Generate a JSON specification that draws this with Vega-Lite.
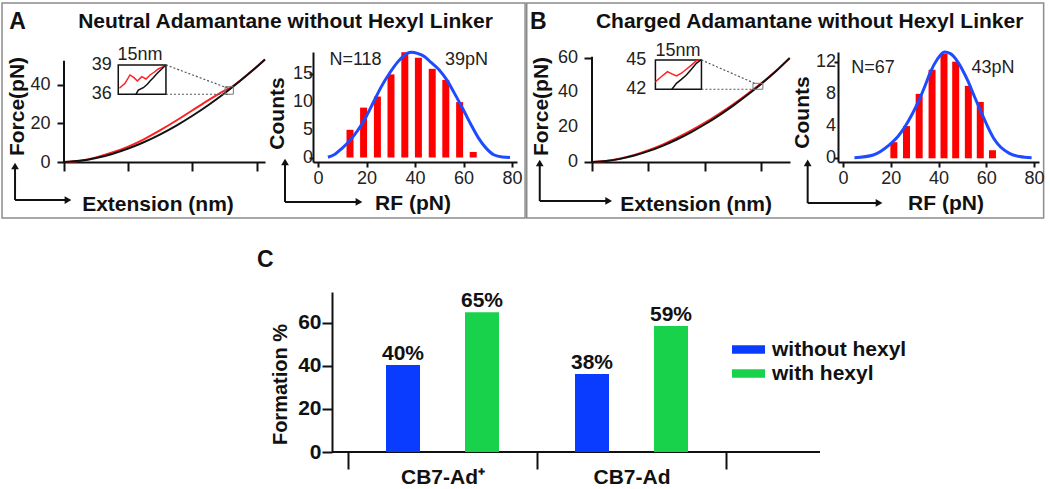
{
  "$schema": "https://vega.github.io/schema/vega-lite/v6.json",
  "padding": {"left": 1, "top": 2, "right": 0, "bottom": 0},
  "background": "white",
  "datasets": {
    "forceA": [
      {"trace": "approach", "ext": 0, "force": 0}, {"trace": "approach", "ext": 10, "force": 0.59}, {"trace": "approach", "ext": 20, "force": 2.03},
      {"trace": "approach", "ext": 30, "force": 4.18}, {"trace": "approach", "ext": 40, "force": 6.97}, {"trace": "approach", "ext": 50, "force": 10.37},
      {"trace": "approach", "ext": 60, "force": 14.35}, {"trace": "approach", "ext": 70, "force": 18.88}, {"trace": "approach", "ext": 80, "force": 23.95},
      {"trace": "approach", "ext": 90, "force": 29.54}, {"trace": "approach", "ext": 100, "force": 35.63}, {"trace": "approach", "ext": 105, "force": 38.86},
      {"trace": "approach", "ext": 110, "force": 42.21}, {"trace": "approach", "ext": 115, "force": 45.69}, {"trace": "approach", "ext": 120, "force": 49.28},
      {"trace": "approach", "ext": 125.2, "force": 53.1},
      {"trace": "retraction", "ext": 0, "force": 0}, {"trace": "retraction", "ext": 10, "force": 0.7}, {"trace": "retraction", "ext": 20, "force": 2.4},
      {"trace": "retraction", "ext": 30, "force": 4.9}, {"trace": "retraction", "ext": 40, "force": 8.0}, {"trace": "retraction", "ext": 50, "force": 11.9},
      {"trace": "retraction", "ext": 60, "force": 16.5}, {"trace": "retraction", "ext": 70, "force": 21.5}, {"trace": "retraction", "ext": 80, "force": 26.8},
      {"trace": "retraction", "ext": 90, "force": 32.1}, {"trace": "retraction", "ext": 100, "force": 37.0}, {"trace": "retraction", "ext": 105, "force": 39.2},
      {"trace": "retraction", "ext": 110, "force": 42.4}, {"trace": "retraction", "ext": 115, "force": 45.8}, {"trace": "retraction", "ext": 120, "force": 49.3},
      {"trace": "retraction", "ext": 125.2, "force": 53.1}
    ],
    "insetA": [
      {"trace": "retraction", "ext": 34.5, "force": 38.2}, {"trace": "retraction", "ext": 38.0, "force": 40.8}, {"trace": "retraction", "ext": 41.1, "force": 45.1},
      {"trace": "retraction", "ext": 43.6, "force": 43.7}, {"trace": "retraction", "ext": 45.7, "force": 42.0}, {"trace": "retraction", "ext": 48.4, "force": 44.2},
      {"trace": "retraction", "ext": 51.1, "force": 43.0}, {"trace": "retraction", "ext": 53.6, "force": 45.1}, {"trace": "retraction", "ext": 56.1, "force": 46.5},
      {"trace": "retraction", "ext": 58.7, "force": 48.2}, {"trace": "retraction", "ext": 61.9, "force": 49.4},
      {"trace": "approach", "ext": 44.8, "force": 35.1}, {"trace": "approach", "ext": 46.3, "force": 37.3}, {"trace": "approach", "ext": 49.4, "force": 38.5},
      {"trace": "approach", "ext": 51.9, "force": 40.3}, {"trace": "approach", "ext": 53.6, "force": 42.0}, {"trace": "approach", "ext": 55.6, "force": 43.7},
      {"trace": "approach", "ext": 58.1, "force": 46.0}, {"trace": "approach", "ext": 60.9, "force": 48.2}, {"trace": "approach", "ext": 62.9, "force": 49.9}
    ],
    "forceB": [
      {"trace": "approach", "ext": 0, "force": 0}, {"trace": "approach", "ext": 10, "force": 0.51}, {"trace": "approach", "ext": 20, "force": 1.79},
      {"trace": "approach", "ext": 30, "force": 3.71}, {"trace": "approach", "ext": 40, "force": 6.23}, {"trace": "approach", "ext": 50, "force": 9.3},
      {"trace": "approach", "ext": 60, "force": 12.92}, {"trace": "approach", "ext": 70, "force": 17.05}, {"trace": "approach", "ext": 80, "force": 21.68},
      {"trace": "approach", "ext": 90, "force": 26.81}, {"trace": "approach", "ext": 100, "force": 32.41}, {"trace": "approach", "ext": 110, "force": 38.47},
      {"trace": "approach", "ext": 120, "force": 44.99}, {"trace": "approach", "ext": 130, "force": 51.97}, {"trace": "approach", "ext": 140, "force": 59.7},
      {"trace": "retraction", "ext": 0, "force": 0}, {"trace": "retraction", "ext": 10, "force": 0.6}, {"trace": "retraction", "ext": 20, "force": 2.0},
      {"trace": "retraction", "ext": 30, "force": 4.1}, {"trace": "retraction", "ext": 40, "force": 6.8}, {"trace": "retraction", "ext": 50, "force": 10.0},
      {"trace": "retraction", "ext": 60, "force": 13.8}, {"trace": "retraction", "ext": 70, "force": 18.0}, {"trace": "retraction", "ext": 80, "force": 22.6},
      {"trace": "retraction", "ext": 90, "force": 27.7}, {"trace": "retraction", "ext": 100, "force": 33.2}, {"trace": "retraction", "ext": 110, "force": 39.1},
      {"trace": "retraction", "ext": 116, "force": 42.8}, {"trace": "retraction", "ext": 120, "force": 45.3}, {"trace": "retraction", "ext": 130, "force": 52.1},
      {"trace": "retraction", "ext": 140, "force": 59.7}
    ],
    "insetB": [
      {"trace": "retraction", "ext": 44.9, "force": 46.1}, {"trace": "retraction", "ext": 48.6, "force": 48.7}, {"trace": "retraction", "ext": 53.4, "force": 51.9},
      {"trace": "retraction", "ext": 56.6, "force": 50.6}, {"trace": "retraction", "ext": 59.8, "force": 49.4}, {"trace": "retraction", "ext": 63.3, "force": 51.0},
      {"trace": "retraction", "ext": 66.8, "force": 53.3}, {"trace": "retraction", "ext": 70.4, "force": 55.7}, {"trace": "retraction", "ext": 73.9, "force": 58.2},
      {"trace": "retraction", "ext": 76.5, "force": 58.6},
      {"trace": "approach", "ext": 56.6, "force": 41.8}, {"trace": "approach", "ext": 59.8, "force": 45.2}, {"trace": "approach", "ext": 63.3, "force": 47.5},
      {"trace": "approach", "ext": 66.8, "force": 50.0}, {"trace": "approach", "ext": 70.4, "force": 53.3}, {"trace": "approach", "ext": 73.9, "force": 56.7},
      {"trace": "approach", "ext": 77.0, "force": 58.6}
    ],
    "histA": [
      {"rf": 13.2, "count": 5}, {"rf": 18.8, "count": 9}, {"rf": 24.5, "count": 11}, {"rf": 30.1, "count": 15}, {"rf": 35.8, "count": 19},
      {"rf": 41.4, "count": 18}, {"rf": 47.1, "count": 16}, {"rf": 52.7, "count": 14}, {"rf": 58.4, "count": 10}, {"rf": 64.0, "count": 1}
    ],
    "gaussA": [
      {"rf": 4.1, "count": 0.05}, {"rf": 7, "count": 0.6}, {"rf": 9.9, "count": 1.66}, {"rf": 13, "count": 3.0}, {"rf": 16.5, "count": 4.96},
      {"rf": 20, "count": 7.5}, {"rf": 23, "count": 10.1}, {"rf": 26, "count": 12.7}, {"rf": 29.5, "count": 15.2}, {"rf": 33, "count": 17.3},
      {"rf": 36, "count": 18.6}, {"rf": 38.4, "count": 19.0}, {"rf": 41, "count": 18.8}, {"rf": 44, "count": 18.2}, {"rf": 46.5, "count": 17.2},
      {"rf": 50, "count": 15.8}, {"rf": 53.1, "count": 14.0}, {"rf": 56, "count": 11.8}, {"rf": 59.6, "count": 8.9}, {"rf": 63, "count": 6.0},
      {"rf": 66.2, "count": 3.5}, {"rf": 69.5, "count": 1.6}, {"rf": 72.7, "count": 0.45}, {"rf": 76, "count": 0.1}, {"rf": 79.2, "count": 0.02}
    ],
    "histB": [
      {"rf": 21.3, "count": 2}, {"rf": 26.6, "count": 4}, {"rf": 31.9, "count": 8}, {"rf": 37.3, "count": 11}, {"rf": 42.3, "count": 13},
      {"rf": 47.2, "count": 12}, {"rf": 52.5, "count": 9}, {"rf": 57.5, "count": 7}, {"rf": 62.6, "count": 1}
    ],
    "gaussB": [
      {"rf": 4.8, "count": 0.07}, {"rf": 12.7, "count": 0.41}, {"rf": 19.4, "count": 1.66}, {"rf": 23, "count": 2.7}, {"rf": 26, "count": 3.94},
      {"rf": 29, "count": 5.5}, {"rf": 31.9, "count": 7.25}, {"rf": 34.5, "count": 9.1}, {"rf": 36.6, "count": 10.7}, {"rf": 39.5, "count": 12.3},
      {"rf": 42.5, "count": 13.2}, {"rf": 45, "count": 13.0}, {"rf": 47.8, "count": 12.1}, {"rf": 50, "count": 11.0}, {"rf": 52.5, "count": 9.5},
      {"rf": 55, "count": 7.7}, {"rf": 57.8, "count": 5.8}, {"rf": 60.5, "count": 4.0}, {"rf": 63.1, "count": 2.5}, {"rf": 66, "count": 1.4},
      {"rf": 69.7, "count": 0.62}, {"rf": 74, "count": 0.22}, {"rf": 79, "count": 0.07}
    ],
    "countTicksA": [{"v": 0}, {"v": 5}, {"v": 10}, {"v": 15}],
    "forceTicksB": [{"v": 0}, {"v": 20}, {"v": 40}, {"v": 60}],
    "countTicksB": [{"v": 0}, {"v": 4}, {"v": 8}, {"v": 12}],
    "formation": [
      {"complex": "CB7-Ad⁺", "linker": "without hexyl", "formation": 40.5, "label": "40%"},
      {"complex": "CB7-Ad⁺", "linker": "with hexyl", "formation": 65, "label": "65%"},
      {"complex": "CB7-Ad", "linker": "without hexyl", "formation": 36.3, "label": "38%"},
      {"complex": "CB7-Ad", "linker": "with hexyl", "formation": 58.6, "label": "59%"}
    ]
  },
  "vconcat": [
    {
      "bounds": "flush",
      "spacing": 0,
      "hconcat": [
        {
          "width": 201,
          "height": 110,
          "layer": [
            {"data": {"values": [{}]}, "mark": {"type": "rect", "fill": "transparent", "stroke": "#8c8c8c", "strokeWidth": 1.5},
             "encoding": {"x": {"datum": -38.6}, "x2": {"datum": 287.2}, "y": {"datum": -29.0}, "y2": {"datum": 82.4}}},
            {"data": {"values": [{}]}, "mark": {"type": "text", "text": "A", "fontSize": 23, "fontWeight": "bold", "align": "center", "baseline": "middle", "color": "#111"},
             "encoding": {"x": {"datum": -28.96}, "y": {"datum": 72.3}}},
            {"data": {"values": [{}]}, "mark": {"type": "text", "text": "Neutral Adamantane without Hexyl Linker", "fontSize": 21, "fontWeight": "bold", "align": "center", "baseline": "middle", "color": "#111"},
             "encoding": {"x": {"datum": 137.97}, "y": {"datum": 72.3}}},
            {"data": {"values": [{}]}, "mark": {"type": "rule", "strokeWidth": 2, "color": "#111"},
             "encoding": {"x": {"datum": -30.5}, "y": {"datum": -19.7}, "y2": {"datum": -2.07}}},
            {"data": {"values": [{}]}, "mark": {"type": "rule", "strokeWidth": 2, "color": "#111"},
             "encoding": {"x": {"datum": -30.5}, "x2": {"datum": 2.49}, "y": {"datum": -19.7}}},
            {"data": {"values": [{}]}, "mark": {"type": "point", "shape": "triangle-up", "filled": true, "size": 60, "color": "#111", "opacity": 1},
             "encoding": {"x": {"datum": -30.5}, "y": {"datum": -2.07}}},
            {"data": {"values": [{}]}, "mark": {"type": "point", "shape": "triangle-right", "filled": true, "size": 60, "color": "#111", "opacity": 1},
             "encoding": {"x": {"datum": 2.49}, "y": {"datum": -19.7}}},
            {"data": {"values": [{}]}, "mark": {"type": "rule", "strokeWidth": 2, "color": "#111"},
             "encoding": {"x": {"datum": 0}, "y": {"datum": 0}, "y2": {"datum": 52.5}}},
            {"data": {"name": "forceA"}, "transform": [{"filter": "datum.trace === 'retraction'"}],
             "mark": {"type": "line", "color": "#ff2020", "strokeWidth": 2, "interpolate": "monotone"},
             "encoding": {
               "x": {"field": "ext", "type": "quantitative", "scale": {"domain": [0, 125.2], "nice": false, "zero": false},
                     "axis": {"values": [0, 40, 80, 120], "labels": false, "tickSize": 9, "title": "Extension (nm)", "titleX": 93.5, "titleY": 42}},
               "y": {"field": "force", "type": "quantitative", "scale": {"domain": [0, 57], "nice": false, "zero": false},
                     "axis": {"values": [0, 10, 20, 30, 40, 50], "labelExpr": "datum.value % 20 === 0 ? datum.label : ''", "labelOverlap": false, "domain": false, "tickSize": 7, "labelPadding": 7,
                              "title": "Force(pN)", "titleX": -46.5, "titleY": 54}}
             }},
            {"data": {"name": "forceA"}, "transform": [{"filter": "datum.trace === 'approach'"}],
             "mark": {"type": "line", "color": "#111", "strokeWidth": 2, "interpolate": "monotone"},
             "encoding": {"x": {"field": "ext", "type": "quantitative"}, "y": {"field": "force", "type": "quantitative"}}},
            {"data": {"values": [{}]}, "mark": {"type": "rect", "fill": "transparent", "stroke": "#111", "strokeWidth": 1.5},
             "encoding": {"x": {"datum": 33.8}, "x2": {"datum": 63.5}, "y": {"datum": 35.1}, "y2": {"datum": 50.3}}},
            {"data": {"values": [{}]}, "mark": {"type": "rect", "fill": "transparent", "stroke": "#777", "strokeWidth": 1},
             "encoding": {"x": {"datum": 100.3}, "x2": {"datum": 105.5}, "y": {"datum": 35.1}, "y2": {"datum": 39.0}}},
            {"data": {"values": [{}]}, "mark": {"type": "rule", "strokeWidth": 1.2, "color": "#555", "strokeDash": [2, 2]},
             "encoding": {"x": {"datum": 63.5}, "y": {"datum": 50.3}, "x2": {"datum": 102.3}, "y2": {"datum": 38.2}}},
            {"data": {"values": [{}]}, "mark": {"type": "rule", "strokeWidth": 1.2, "color": "#555", "strokeDash": [2, 2]},
             "encoding": {"x": {"datum": 63.5}, "y": {"datum": 35.1}, "x2": {"datum": 102.3}, "y2": {"datum": 35.1}}},
            {"data": {"name": "insetA"}, "transform": [{"filter": "datum.trace === 'retraction'"}],
             "mark": {"type": "line", "color": "#ff2020", "strokeWidth": 1.5},
             "encoding": {"x": {"field": "ext", "type": "quantitative"}, "y": {"field": "force", "type": "quantitative"}}},
            {"data": {"name": "insetA"}, "transform": [{"filter": "datum.trace === 'approach'"}],
             "mark": {"type": "line", "color": "#111", "strokeWidth": 1.5},
             "encoding": {"x": {"field": "ext", "type": "quantitative"}, "y": {"field": "force", "type": "quantitative"}}},
            {"data": {"values": [{}]}, "mark": {"type": "text", "text": "15nm", "fontSize": 18, "align": "center", "baseline": "middle", "color": "#222"},
             "encoding": {"x": {"datum": 47.3}, "y": {"datum": 55.4}}},
            {"data": {"values": [{}]}, "mark": {"type": "text", "text": "39", "fontSize": 18, "align": "right", "baseline": "middle", "color": "#222"},
             "encoding": {"x": {"datum": 29.7}, "y": {"datum": 50.3}}},
            {"data": {"values": [{}]}, "mark": {"type": "text", "text": "36", "fontSize": 18, "align": "right", "baseline": "middle", "color": "#222"},
             "encoding": {"x": {"datum": 29.7}, "y": {"datum": 35.1}}}
          ]
        },
        {"width": 48, "height": 110, "data": {"values": []}, "mark": "point"},
        {
          "width": 204,
          "height": 110,
          "layer": [
            {"data": {"values": [{}]}, "mark": {"type": "rule", "strokeWidth": 2, "color": "#111"},
             "encoding": {"x": {"datum": -13.6}, "y": {"datum": -8.03}, "y2": {"datum": -0.81}}},
            {"data": {"values": [{}]}, "mark": {"type": "rule", "strokeWidth": 2, "color": "#111"},
             "encoding": {"x": {"datum": -13.6}, "x2": {"datum": 16.9}, "y": {"datum": -8.03}}},
            {"data": {"values": [{}]}, "mark": {"type": "point", "shape": "triangle-up", "filled": true, "size": 60, "color": "#111", "opacity": 1},
             "encoding": {"x": {"datum": -13.6}, "y": {"datum": -0.81}}},
            {"data": {"values": [{}]}, "mark": {"type": "point", "shape": "triangle-right", "filled": true, "size": 60, "color": "#111", "opacity": 1},
             "encoding": {"x": {"datum": 16.9}, "y": {"datum": -8.03}}},
            {"data": {"name": "histA"}, "mark": {"type": "bar", "width": 7, "color": "#ff0000"},
             "encoding": {
               "x": {"field": "rf", "type": "quantitative", "scale": {"domain": [0, 80], "nice": false, "zero": false},
                     "axis": {"values": [0, 20, 40, 60, 80], "labelOverlap": false, "tickSize": 5, "labelPadding": 2, "title": "RF (pN)", "titleX": 99.5, "titleY": 41}},
               "y": {"field": "count", "type": "quantitative", "scale": {"domain": [-0.812, 19.04], "nice": false, "zero": false},
                     "axis": {"values": [0, 5, 10, 15], "labels": false, "tickSize": 4, "title": "Counts", "titleX": -35.5, "titleY": 61}},
               "y2": {"datum": 0}
             }},
            {"data": {"name": "countTicksA"}, "mark": {"type": "text", "fontSize": 18, "align": "right", "baseline": "middle", "color": "#222", "dx": -5},
             "encoding": {"x": {"datum": 0}, "y": {"field": "v", "type": "quantitative"}, "text": {"field": "v", "type": "quantitative"}}},
            {"data": {"name": "gaussA"}, "mark": {"type": "line", "color": "#1e4bff", "strokeWidth": 3, "interpolate": "monotone"},
             "encoding": {"x": {"field": "rf", "type": "quantitative"}, "y": {"field": "count", "type": "quantitative"}}},
            {"data": {"values": [{}]}, "mark": {"type": "text", "text": "N=118", "fontSize": 18, "align": "left", "baseline": "middle", "color": "#222"},
             "encoding": {"x": {"datum": 4.7}, "y": {"datum": 17.6}}},
            {"data": {"values": [{}]}, "mark": {"type": "text", "text": "39pN", "fontSize": 18, "align": "left", "baseline": "middle", "color": "#222"},
             "encoding": {"x": {"datum": 52.4}, "y": {"datum": 17.6}}}
          ]
        },
        {"width": 75, "height": 110, "data": {"values": []}, "mark": "point"},
        {
          "width": 198,
          "height": 110,
          "layer": [
            {"data": {"values": [{}]}, "mark": {"type": "rect", "fill": "transparent", "stroke": "#8c8c8c", "strokeWidth": 1.5},
             "encoding": {"x": {"datum": -46.2}, "x2": {"datum": 319.8}, "y": {"datum": -32.2}, "y2": {"datum": 91.35}}},
            {"data": {"values": [{}]}, "mark": {"type": "text", "text": "B", "fontSize": 23, "fontWeight": "bold", "align": "center", "baseline": "middle", "color": "#111"},
             "encoding": {"x": {"datum": -38.1}, "y": {"datum": 80.15}}},
            {"data": {"values": [{}]}, "mark": {"type": "text", "text": "Charged Adamantane without Hexyl Linker", "fontSize": 21, "fontWeight": "bold", "align": "center", "baseline": "middle", "color": "#111"},
             "encoding": {"x": {"datum": 154.1}, "y": {"datum": 80.15}}},
            {"data": {"values": [{}]}, "mark": {"type": "rule", "strokeWidth": 2, "color": "#111"},
             "encoding": {"x": {"datum": -37.0}, "y": {"datum": -22.4}, "y2": {"datum": -0.57}}},
            {"data": {"values": [{}]}, "mark": {"type": "rule", "strokeWidth": 2, "color": "#111"},
             "encoding": {"x": {"datum": -37.0}, "x2": {"datum": 11.8}, "y": {"datum": -22.4}}},
            {"data": {"values": [{}]}, "mark": {"type": "point", "shape": "triangle-up", "filled": true, "size": 60, "color": "#111", "opacity": 1},
             "encoding": {"x": {"datum": -37.0}, "y": {"datum": -0.57}}},
            {"data": {"values": [{}]}, "mark": {"type": "point", "shape": "triangle-right", "filled": true, "size": 60, "color": "#111", "opacity": 1},
             "encoding": {"x": {"datum": 11.8}, "y": {"datum": -22.4}}},
            {"data": {"values": [{}]}, "mark": {"type": "rule", "strokeWidth": 2, "color": "#111"},
             "encoding": {"x": {"datum": 0}, "y": {"datum": 0}, "y2": {"datum": 60.5}}},
            {"data": {"name": "forceB"}, "transform": [{"filter": "datum.trace === 'retraction'"}],
             "mark": {"type": "line", "color": "#ff2020", "strokeWidth": 2, "interpolate": "monotone"},
             "encoding": {
               "x": {"field": "ext", "type": "quantitative", "scale": {"domain": [0, 140.2], "nice": false, "zero": false},
                     "axis": {"values": [0, 40, 80, 120], "labels": false, "tickSize": 9, "title": "Extension (nm)", "titleX": 103.7, "titleY": 42}},
               "y": {"field": "force", "type": "quantitative", "scale": {"domain": [0, 63.2], "nice": false, "zero": false},
                     "axis": {"values": [0, 10, 20, 30, 40, 50, 60], "labels": false, "domain": false, "tickSize": 8,
                              "title": "Force(pN)", "titleX": -50.8, "titleY": 54}}
             }},
            {"data": {"name": "forceTicksB"}, "mark": {"type": "text", "fontSize": 18, "align": "right", "baseline": "middle", "color": "#222", "dx": -14},
             "encoding": {"x": {"datum": 0}, "y": {"field": "v", "type": "quantitative"}, "text": {"field": "v", "type": "quantitative"}}},
            {"data": {"name": "forceB"}, "transform": [{"filter": "datum.trace === 'approach'"}],
             "mark": {"type": "line", "color": "#111", "strokeWidth": 2, "interpolate": "monotone"},
             "encoding": {"x": {"field": "ext", "type": "quantitative"}, "y": {"field": "force", "type": "quantitative"}}},
            {"data": {"values": [{}]}, "mark": {"type": "rect", "fill": "transparent", "stroke": "#111", "strokeWidth": 1.5},
             "encoding": {"x": {"datum": 44.9}, "x2": {"datum": 77.5}, "y": {"datum": 41.8}, "y2": {"datum": 58.6}}},
            {"data": {"values": [{}]}, "mark": {"type": "rect", "fill": "transparent", "stroke": "#777", "strokeWidth": 1},
             "encoding": {"x": {"datum": 114}, "x2": {"datum": 121}, "y": {"datum": 41.8}, "y2": {"datum": 45.2}}},
            {"data": {"values": [{}]}, "mark": {"type": "rule", "strokeWidth": 1.2, "color": "#555", "strokeDash": [2, 2]},
             "encoding": {"x": {"datum": 77.5}, "y": {"datum": 58.6}, "x2": {"datum": 115.2}, "y2": {"datum": 45.2}}},
            {"data": {"values": [{}]}, "mark": {"type": "rule", "strokeWidth": 1.2, "color": "#555", "strokeDash": [2, 2]},
             "encoding": {"x": {"datum": 77.5}, "y": {"datum": 41.8}, "x2": {"datum": 114}, "y2": {"datum": 41.8}}},
            {"data": {"name": "insetB"}, "transform": [{"filter": "datum.trace === 'retraction'"}],
             "mark": {"type": "line", "color": "#ff2020", "strokeWidth": 1.5},
             "encoding": {"x": {"field": "ext", "type": "quantitative"}, "y": {"field": "force", "type": "quantitative"}}},
            {"data": {"name": "insetB"}, "transform": [{"filter": "datum.trace === 'approach'"}],
             "mark": {"type": "line", "color": "#111", "strokeWidth": 1.5},
             "encoding": {"x": {"field": "ext", "type": "quantitative"}, "y": {"field": "force", "type": "quantitative"}}},
            {"data": {"values": [{}]}, "mark": {"type": "text", "text": "15nm", "fontSize": 18, "align": "center", "baseline": "middle", "color": "#222"},
             "encoding": {"x": {"datum": 60.9}, "y": {"datum": 63.8}}},
            {"data": {"values": [{}]}, "mark": {"type": "text", "text": "45", "fontSize": 18, "align": "right", "baseline": "middle", "color": "#222"},
             "encoding": {"x": {"datum": 38.5}, "y": {"datum": 58.6}}},
            {"data": {"values": [{}]}, "mark": {"type": "text", "text": "42", "fontSize": 18, "align": "right", "baseline": "middle", "color": "#222"},
             "encoding": {"x": {"datum": 38.5}, "y": {"datum": 41.8}}}
          ]
        },
        {"width": 48, "height": 110, "data": {"values": []}, "mark": "point"},
        {
          "width": 201,
          "height": 110,
          "layer": [
            {"data": {"values": [{}]}, "mark": {"type": "rule", "strokeWidth": 2, "color": "#111"},
             "encoding": {"x": {"datum": -14.8}, "y": {"datum": -5.55}, "y2": {"datum": -0.58}}},
            {"data": {"values": [{}]}, "mark": {"type": "rule", "strokeWidth": 2, "color": "#111"},
             "encoding": {"x": {"datum": -14.8}, "x2": {"datum": 15.1}, "y": {"datum": -5.55}}},
            {"data": {"values": [{}]}, "mark": {"type": "point", "shape": "triangle-up", "filled": true, "size": 60, "color": "#111", "opacity": 1},
             "encoding": {"x": {"datum": -14.8}, "y": {"datum": -0.58}}},
            {"data": {"values": [{}]}, "mark": {"type": "point", "shape": "triangle-right", "filled": true, "size": 60, "color": "#111", "opacity": 1},
             "encoding": {"x": {"datum": 15.1}, "y": {"datum": -5.55}}},
            {"data": {"name": "histB"}, "mark": {"type": "bar", "width": 7, "color": "#ff0000"},
             "encoding": {
               "x": {"field": "rf", "type": "quantitative", "scale": {"domain": [0, 80], "nice": false, "zero": false},
                     "axis": {"values": [0, 20, 40, 60, 80], "labelOverlap": false, "tickSize": 5, "labelPadding": 2, "title": "RF (pN)", "titleX": 107.5, "titleY": 41}},
               "y": {"field": "count", "type": "quantitative", "scale": {"domain": [-0.46, 13.2], "nice": false, "zero": false},
                     "axis": {"values": [0, 2, 4, 6, 8, 10, 12], "labels": false, "tickSize": 4, "title": "Counts", "titleX": -35.5, "titleY": 60}},
               "y2": {"datum": 0}
             }},
            {"data": {"name": "countTicksB"}, "mark": {"type": "text", "fontSize": 18, "align": "right", "baseline": "middle", "color": "#222", "dx": -7},
             "encoding": {"x": {"datum": 0}, "y": {"field": "v", "type": "quantitative"}, "text": {"field": "v", "type": "quantitative"}}},
            {"data": {"name": "gaussB"}, "mark": {"type": "line", "color": "#1e4bff", "strokeWidth": 3, "interpolate": "monotone"},
             "encoding": {"x": {"field": "rf", "type": "quantitative"}, "y": {"field": "count", "type": "quantitative"}}},
            {"data": {"values": [{}]}, "mark": {"type": "text", "text": "N=67", "fontSize": 18, "align": "left", "baseline": "middle", "color": "#222"},
             "encoding": {"x": {"datum": 3.46}, "y": {"datum": 11.25}}},
            {"data": {"values": [{}]}, "mark": {"type": "text", "text": "43pN", "fontSize": 18, "align": "left", "baseline": "middle", "color": "#222"},
             "encoding": {"x": {"datum": 53.85}, "y": {"datum": 11.25}}}
          ]
        }
      ]
    },
    {
      "bounds": "flush",
      "spacing": 0,
      "hconcat": [
        {"width": 268, "height": 160, "data": {"values": []}, "mark": "point"},
        {
          "width": 488,
          "height": 160,
          "title": {"text": "C", "anchor": "start", "frame": "group", "fontSize": 23, "fontWeight": "bold", "color": "#111", "dx": -75, "offset": 0, "baseline": "alphabetic"},
          "layer": [
            {"data": {"values": [{}]}, "mark": {"type": "rule", "strokeWidth": 2, "color": "#111"},
             "encoding": {"y": {"datum": 0}}},
            {"data": {"name": "formation"}, "mark": {"type": "bar"},
             "encoding": {
               "x": {"field": "complex", "type": "nominal", "sort": null,
                     "scale": {"domain": ["CB7-Ad⁺", "CB7-Ad"], "paddingInner": 0, "paddingOuter": 0.291, "align": 0.1455},
                     "axis": {"domain": false, "tickBand": "extent", "tickSize": 17, "tickWidth": 2, "labelPadding": -3, "labelFontSize": 21, "labelFontWeight": "bold", "labelColor": "#111", "labelAngle": 0, "title": null}},
               "xOffset": {"field": "linker", "type": "nominal", "sort": null,
                           "scale": {"domain": ["without hexyl", "with hexyl"], "paddingInner": 0.5696, "paddingOuter": 0.481}},
               "y": {"field": "formation", "type": "quantitative", "scale": {"domain": [0, 74.4], "nice": false},
                     "axis": {"values": [0, 20, 40, 60], "labelOverlap": false, "tickSize": 10, "labelPadding": 1, "labelFontSize": 21, "labelFontWeight": "bold", "labelColor": "#111",
                              "title": "Formation %", "titleFontSize": 20, "titleX": -52, "titleY": 92}},
               "color": {"field": "linker", "type": "nominal",
                         "scale": {"domain": ["without hexyl", "with hexyl"], "range": ["#0a3cff", "#18d24b"]},
                         "legend": {"orient": "none", "legendX": 668, "legendY": 287, "title": null, "symbolType": "M-1,-0.26H1V0.26H-1Z", "symbolSize": 1089,
                                    "symbolStrokeWidth": 0, "clipHeight": 21, "rowPadding": 2, "labelFontSize": 21, "labelFontWeight": "bold", "labelColor": "#111",
                                    "labelOffset": 7, "padding": 0, "labelLimit": 300}}
             }},
            {"data": {"name": "formation"}, "mark": {"type": "text", "dy": -5, "baseline": "alphabetic", "fontSize": 21, "fontWeight": "bold", "color": "#111"},
             "encoding": {
               "x": {"field": "complex", "type": "nominal", "sort": null},
               "xOffset": {"field": "linker", "type": "nominal", "sort": null},
               "y": {"field": "formation", "type": "quantitative"},
               "text": {"field": "label"}
             }}
          ]
        }
      ]
    }
  ],
  "spacing": 240,
  "bounds": "flush",
  "config": {
    "font": "Liberation Sans",
    "view": {"stroke": null},
    "axis": {"grid": false, "domainColor": "#111", "domainWidth": 2, "tickColor": "#111", "tickWidth": 2,
             "labelFont": "Liberation Sans", "labelFontSize": 18, "labelColor": "#222", "labelFlush": false, "labelOverlap": false,
             "titleFont": "Liberation Sans", "titleFontSize": 21, "titleFontWeight": "bold", "titleColor": "#111",
             "titleBaseline": "middle", "titleAlign": "center"},
    "legend": {"labelFont": "Liberation Sans"},
    "title": {"font": "Liberation Sans"}
  }
}
